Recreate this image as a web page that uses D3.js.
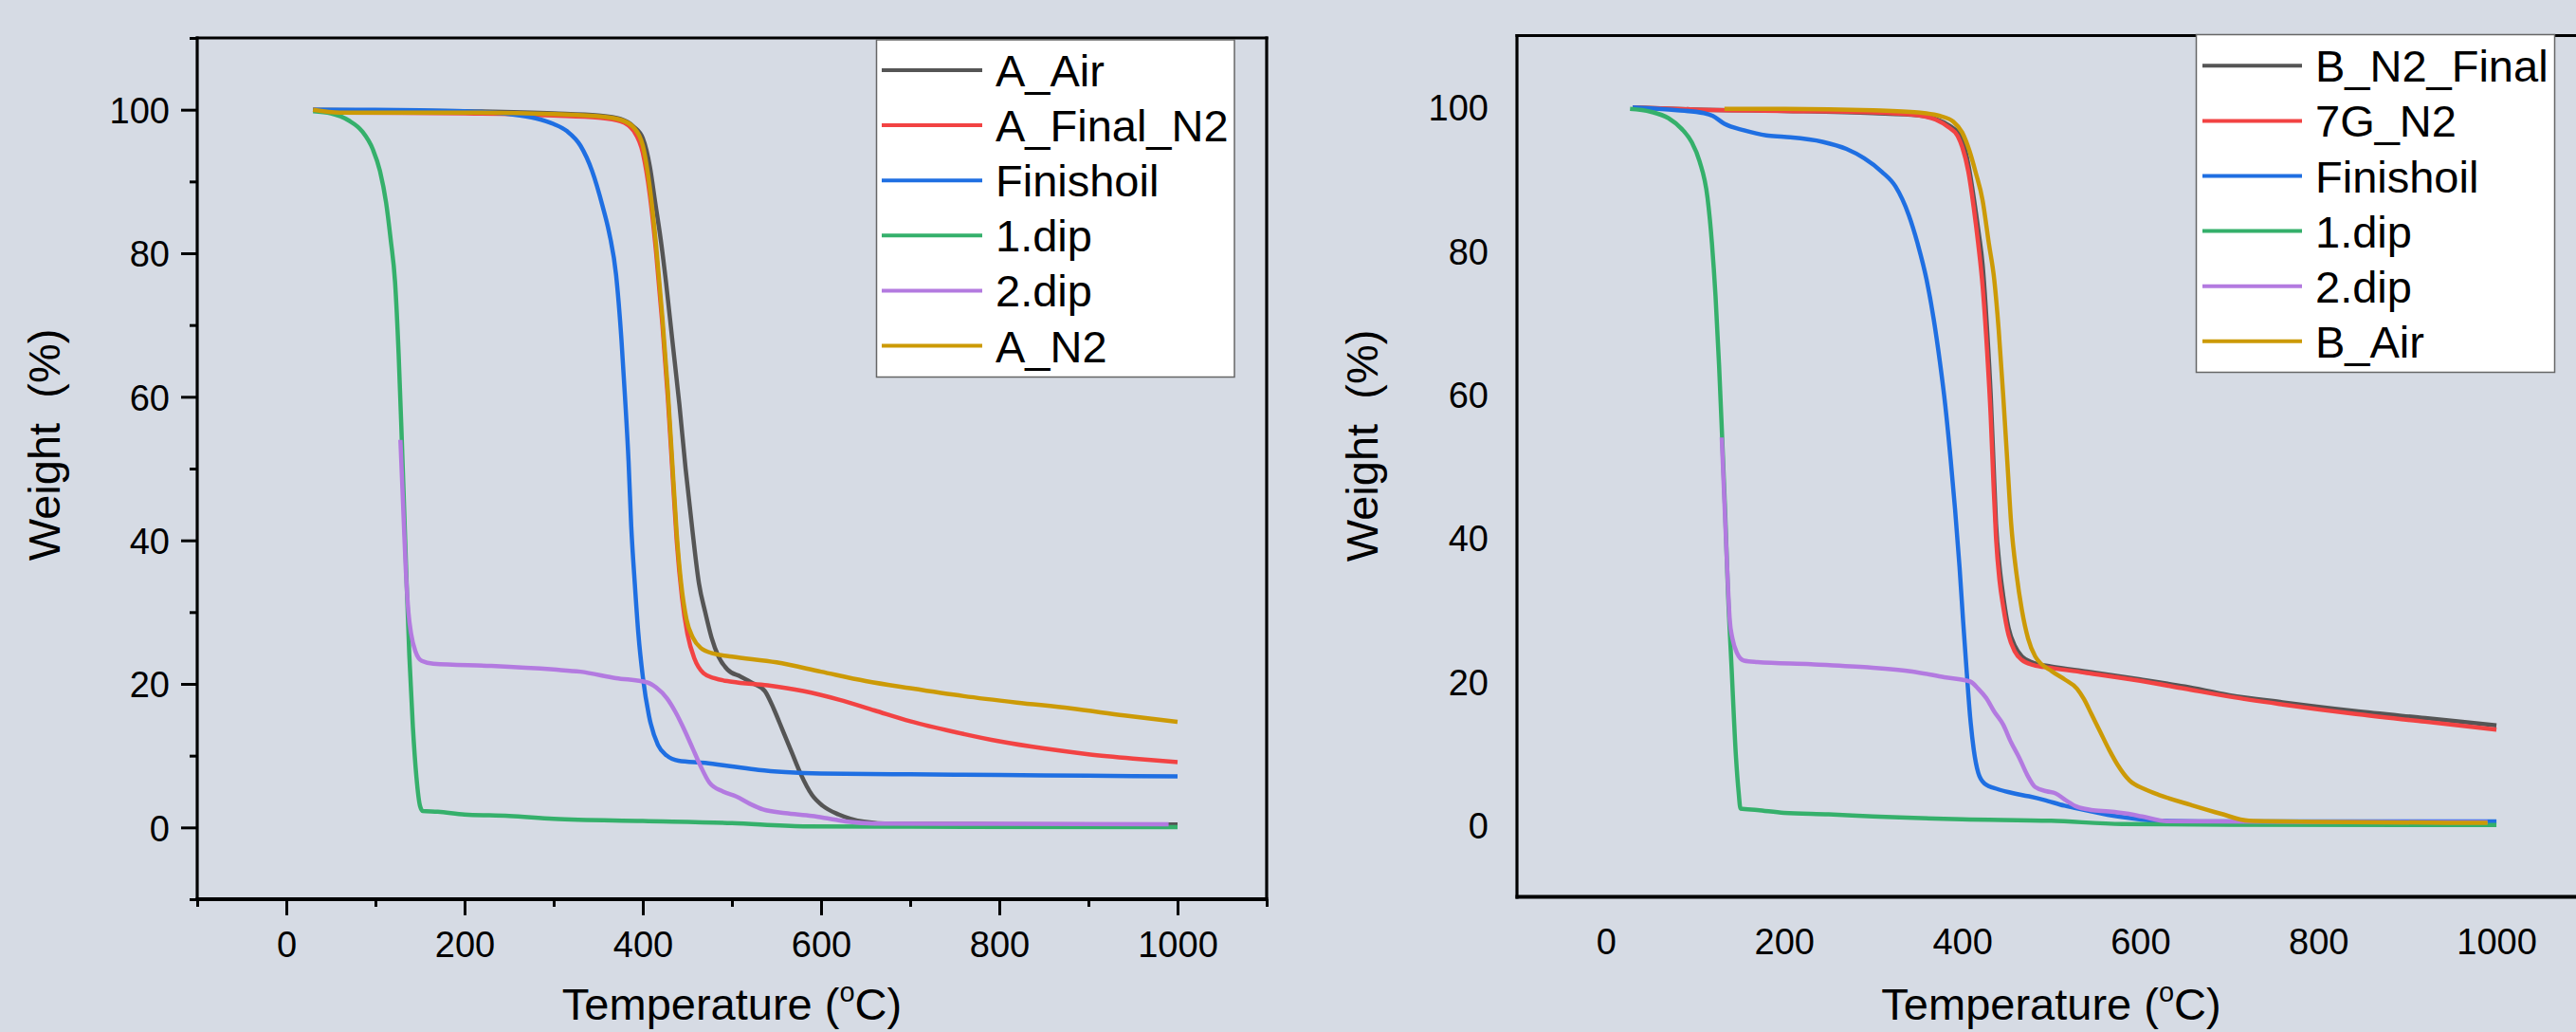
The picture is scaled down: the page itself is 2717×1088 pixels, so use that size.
<!DOCTYPE html>
<html>
<head>
<meta charset="utf-8">
<script src="https://cdn.jsdelivr.net/npm/d3@7"></script>
<style>
  html, body { margin: 0; padding: 0; background: #d6dbe4; }
  svg { display: block; }
</style>
</head>
<body>
<script>
// ---------------- DATA ----------------
const xMajorTicks = [0, 200, 400, 600, 800, 1000];
const xMinorTicks = [-100, 100, 300, 500, 700, 900, 1100];
const yMajorTicks = [0, 20, 40, 60, 80, 100];
const yMinorTicks = [-10, 10, 30, 50, 70, 90, 110];

const xTitle = "Temperature (";
const yTitle = "Weight\u00a0\u00a0(%)";

const leftNames = ["A_Air", "A_Final_N2", "Finishoil", "1.dip", "2.dip", "A_N2"];
const rightNames = ["B_N2_Final", "7G_N2", "Finishoil", "1.dip", "2.dip", "B_Air"];
const seriesColors = ["#555555", "#f24343", "#1f6fe2", "#35b06b", "#b37ae0", "#cc9a06"];

// Left panel series  [temperature °C, weight %]
const aAir = [[30,100],[100,99.9],[200,99.8],[300,99.5],[350,99.2],[375,98.7],[390,97.6],[400,96],[408,92],[414,87],[420,82],[426,76],[433,68],[441,59],[448,50],[456,41],[463,34],[470,30],[477,26.5],[485,23.8],[495,22],[510,21],[525,20],[537,19],[547,16.5],[557,13.5],[567,10.5],[577,7.5],[590,4.5],[602,3],[620,1.8],[648,0.8],[680,0.5],[800,0.45],[1000,0.4]];
const aFinalN2 = [[30,100],[60,99.6],[200,99.5],[300,99.2],[350,98.9],[375,98.4],[390,97],[400,94],[408,88],[415,80],[422,70],[428,60],[433,50],[438,40],[444,32],[450,27],[458,23.5],[468,21.5],[480,20.8],[500,20.3],[540,19.8],[580,19],[620,17.8],[660,16.3],[700,14.8],[750,13.3],[800,12],[850,11],[900,10.2],[950,9.6],[1000,9.1]];
const finishA = [[30,100],[100,100],[200,99.8],[250,99.4],[280,98.8],[300,98],[315,97],[330,95],[343,91.5],[355,86.5],[362,83],[370,77],[376,68],[380,60],[384,51],[387,42],[391,34],[395,27],[400,21],[407,15.5],[417,11.5],[427,10],[440,9.3],[470,9],[500,8.5],[530,8],[560,7.7],[600,7.5],[700,7.4],[800,7.3],[900,7.2],[1000,7.1]];
const dip1A = [[30,99.8],[50,99.5],[70,98.5],[85,97],[97,94.5],[105,91.5],[112,87],[117,82],[122,76],[126,66],[129,56],[132,45],[135,34],[138,24],[142,14],[146,7],[150,3],[153,2.3],[170,2.2],[200,1.8],[250,1.6],[300,1.2],[400,0.9],[500,0.6],[580,0.15],[700,0.1],[1000,0.05]];
const dip2A = [[128,54],[131,45],[134,36],[137,30],[140,27],[145,24.5],[152,23.2],[165,22.8],[230,22.5],[300,22],[330,21.7],[370,20.8],[405,20.2],[415,19.5],[427,18],[437,16],[447,13.5],[456,11],[465,8.5],[475,6.2],[490,5],[505,4.3],[520,3.3],[535,2.5],[560,2],[590,1.6],[610,1.2],[630,0.8],[660,0.55],[800,0.5],[990,0.45]];
const aN2 = [[30,100],[60,99.6],[200,99.6],[300,99.4],[350,99.1],[375,98.6],[390,97.5],[400,95],[408,89],[415,81],[422,71],[428,61],[433,51],[438,41],[443,34],[449,29],[456,26.5],[465,25],[480,24.2],[500,23.8],[550,23],[600,21.7],[650,20.4],[700,19.4],[760,18.3],[820,17.4],[880,16.6],[940,15.6],[1000,14.7]];

// Right panel series
const bN2Final = [[30,100],[100,99.7],[200,99.5],[300,99.2],[350,98.9],[370,98.4],[385,97.5],[395,96.5],[400,95.5],[407,92],[413,87.4],[418,83],[423,78],[428,69],[432,60],[435,51],[438,42],[442,36],[446,32],[452,27.5],[459,25],[467,23.5],[480,22.6],[500,22.1],[540,21.4],[600,20.3],[650,19.3],[700,18.1],[760,17.1],[840,15.9],[920,14.9],[1000,13.9]];
const g7N2 = [[30,100],[100,99.7],[200,99.5],[300,99.3],[350,98.9],[370,98.3],[385,97.2],[395,96],[400,94.5],[407,91],[413,86],[418,81],[423,75],[428,66],[432,57],[435,48],[438,40],[442,34],[446,30.5],[452,26.5],[459,24.2],[467,23],[480,22.3],[500,21.9],[540,21.2],[600,20.1],[650,19],[700,17.9],[760,16.8],[840,15.5],[920,14.4],[1000,13.3]];
const finishB = [[30,100],[80,99.6],[110,99.2],[120,98.8],[133,97.7],[155,96.8],[180,96.1],[200,95.9],[243,95.2],[270,94.2],[290,92.9],[310,91],[325,89],[340,85],[350,81],[360,76],[368,70.5],[375,64.5],[381,58.5],[387,51],[392,44],[397,36],[401,28.5],[405,21.5],[409,15],[413,10.5],[418,7.3],[425,5.8],[440,5],[455,4.5],[475,4],[492,3.5],[515,2.7],[538,2.1],[575,1.2],[621,0.6],[700,0.5],[1000,0.5]];
const dip1B = [[27,99.8],[50,99.4],[70,98.5],[85,97],[96,95.2],[105,92.5],[114,87.4],[119,81],[123,73.7],[127,64],[130,55.3],[134,43],[137,32.4],[141,22],[146,9.4],[149,4.5],[151,2.3],[170,2.1],[200,1.7],[250,1.5],[300,1.2],[400,0.8],[500,0.6],[580,0.15],[700,0.05],[1000,0.0]];
const dip2B = [[130,54],[133,45],[136,36],[139,28.5],[142,26],[147,24],[155,22.9],[170,22.7],[230,22.4],[290,22],[344,21.4],[380,20.6],[409,20],[418,19],[427,17.7],[436,15.8],[446,14],[455,11.5],[464,9.4],[473,7],[482,5.3],[495,4.7],[505,4.4],[517,3.4],[528,2.6],[545,2.1],[565,1.9],[585,1.6],[602,1.2],[630,0.55],[800,0.45],[990,0.4]];
const bAir = [[133,99.8],[200,99.8],[300,99.6],[350,99.3],[375,98.8],[390,98],[400,96.5],[408,94],[415,91],[423,87],[430,81],[436,76],[441,69],[446,60],[451,50],[455,42],[461,35],[467,30],[474,26],[482,23.5],[501,21.4],[515,20.3],[529,19],[537,17.5],[545,15.5],[555,13],[565,10.5],[575,8.3],[588,6.2],[605,5],[621,4.2],[657,2.8],[690,1.6],[722,0.6],[800,0.45],[990,0.3]];

const leftSeries = [aAir, aFinalN2, finishA, dip1A, dip2A, aN2];
const rightSeries = [bN2Final, g7N2, finishB, dip1B, dip2B, bAir];

// ---------------- DRAW ----------------
const W = 2717, H = 1088;
const FONT = "'Liberation Sans', Arial, Helvetica, sans-serif";

const svg = d3.select("body").append("svg")
  .attr("width", W).attr("height", H)
  .attr("viewBox", `0 0 ${W} ${H}`);

svg.append("rect").attr("width", W).attr("height", H).attr("fill", "#d6dbe4");

function drawPanel(p) {
  const g = svg.append("g");
  const x = d3.scaleLinear().domain([-100, 1100]).range([p.x0, p.x1]);
  const y = d3.scaleLinear().domain([-10, 110]).range([p.y1, p.y0]);

  // curves
  const line = d3.line()
    .x(d => x(d[0])).y(d => y(d[1]))
    .curve(d3.curveMonotoneX);
  p.series.forEach((s, i) => {
    g.append("path")
      .attr("d", line(s))
      .attr("fill", "none")
      .attr("stroke", seriesColors[i])
      .attr("stroke-width", 4.5)
      .attr("stroke-linejoin", "round");
  });

  // axes
  const xAx = g.append("g").attr("transform", `translate(0,${p.y1})`)
    .call(d3.axisBottom(x).tickValues(xMajorTicks).tickFormat(d3.format("d"))
      .tickSize(p.ticks ? 17 : 0).tickPadding(p.ticks ? 17 : 34));
  const yAx = g.append("g").attr("transform", `translate(${p.x0},0)`)
    .call(d3.axisLeft(y).tickValues(yMajorTicks).tickFormat(d3.format("d"))
      .tickSize(p.ticks ? 17 : 0).tickPadding(p.ticks ? 12 : 30));
  if (p.ticks) {
    g.append("g").attr("transform", `translate(0,${p.y1})`)
      .call(d3.axisBottom(x).tickValues(xMinorTicks).tickFormat("").tickSize(8));
    g.append("g").attr("transform", `translate(${p.x0},0)`)
      .call(d3.axisLeft(y).tickValues(yMinorTicks).tickFormat("").tickSize(8));
  }
  g.selectAll(".domain").remove();
  g.selectAll(".tick line").attr("stroke", "#000").attr("stroke-width", 3);
  g.selectAll(".tick text").attr("font-family", FONT).attr("font-size", 38).attr("fill", "#000");
  yAx.selectAll(".tick text").attr("dy", "0.36em");

  // frame
  const fr = g.append("g").attr("stroke", "#000").attr("fill", "none");
  fr.append("line").attr("x1", p.x0).attr("x2", p.x0).attr("y1", p.y0 - 1.5).attr("y2", p.y1 + 2).attr("stroke-width", 3.2);
  fr.append("line").attr("x1", p.x0 - 1.5).attr("x2", p.x1 + 1.5).attr("y1", p.y0).attr("y2", p.y0).attr("stroke-width", 3.2);
  fr.append("line").attr("x1", p.x1).attr("x2", p.x1).attr("y1", p.y0 - 1.5).attr("y2", p.y1 + 2).attr("stroke-width", 3.2);
  fr.append("line").attr("x1", p.x0 - 1.5).attr("x2", p.x1 + 1.5).attr("y1", p.y1).attr("y2", p.y1).attr("stroke-width", 4);

  // axis titles
  const xt = g.append("text")
    .attr("x", (p.x0 + p.x1) / 2).attr("y", p.xTitleY)
    .attr("text-anchor", "middle")
    .attr("font-family", FONT).attr("font-size", 47).attr("fill", "#000");
  xt.append("tspan").text(xTitle);
  xt.append("tspan").attr("font-size", 29).attr("dy", -19).text("o");
  xt.append("tspan").attr("dy", 19).text("C)");

  g.append("text")
    .attr("transform", `translate(${p.yTitleX},${p.yTitleY}) rotate(-90)`)
    .attr("text-anchor", "middle")
    .attr("font-family", FONT).attr("font-size", 47).attr("fill", "#000")
    .text(yTitle);

  // legend
  const lg = g.append("g");
  lg.append("rect")
    .attr("x", p.lg.x0).attr("y", p.lg.y0)
    .attr("width", p.lg.x1 - p.lg.x0).attr("height", p.lg.y1 - p.lg.y0)
    .attr("fill", "#fff").attr("stroke", "#666").attr("stroke-width", 1.5);
  p.names.forEach((n, i) => {
    const yy = p.lg.rowY + i * 58.1;
    lg.append("line")
      .attr("x1", p.lg.sx0).attr("x2", p.lg.sx1)
      .attr("y1", yy).attr("y2", yy)
      .attr("stroke", seriesColors[i]).attr("stroke-width", 4);
    lg.append("text")
      .attr("x", p.lg.tx).attr("y", yy + 17)
      .attr("font-family", FONT).attr("font-size", 47).attr("fill", "#000")
      .text(n);
  });
}

drawPanel({
  x0: 208, x1: 1336, y0: 40, y1: 948, ticks: true,
  series: leftSeries, names: leftNames,
  xTitleY: 1075, yTitleX: 63, yTitleY: 469,
  lg: { x0: 924.5, x1: 1302, y0: 42, y1: 397.5, sx0: 930, sx1: 1036, tx: 1050, rowY: 74 }
});

drawPanel({
  x0: 1600, x1: 2727, y0: 37.5, y1: 945.5, ticks: false,
  series: rightSeries, names: rightNames,
  xTitleY: 1075, yTitleX: 1453, yTitleY: 470,
  lg: { x0: 2316.5, x1: 2694.5, y0: 36.5, y1: 392.5, sx0: 2323, sx1: 2428, tx: 2442, rowY: 69.3 }
});
</script>
</body>
</html>
